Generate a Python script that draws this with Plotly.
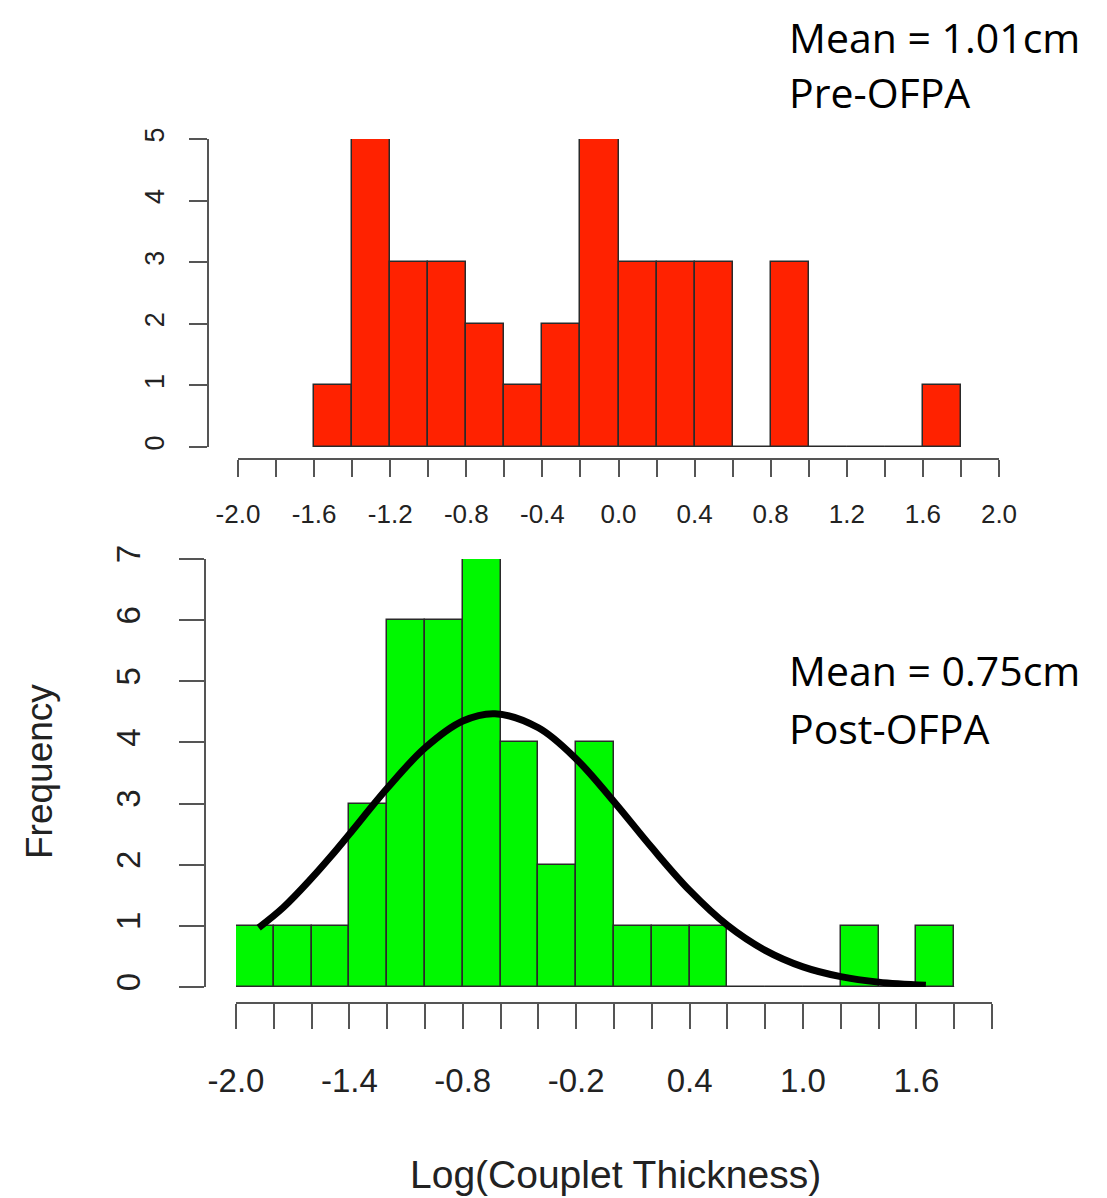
import plotly.graph_objects as go

W, H = 1107, 1198
PAGE_OFFSET = 8  # default body margin of the html page

# ---- data ----
pre_bin_left = [-1.6, -1.4, -1.2, -1.0, -0.8, -0.6, -0.4, -0.2, 0.0, 0.2, 0.4, 0.6, 0.8, 1.0, 1.2, 1.4, 1.6]
pre_counts = [1, 5, 3, 3, 2, 1, 2, 5, 3, 3, 3, 0, 3, 0, 0, 0, 1]

post_bin_left = [-2.0, -1.8, -1.6, -1.4, -1.2, -1.0, -0.8, -0.6, -0.4, -0.2, 0.0, 0.2, 0.4, 0.6, 0.8, 1.0, 1.2, 1.4, 1.6]
post_counts = [1, 1, 1, 3, 6, 6, 7, 4, 2, 4, 1, 1, 1, 0, 0, 0, 1, 0, 1]

bin_width = 0.2

# normal-fit curve
curve_x = [-1.88, -1.75, -1.6, -1.5, -1.4, -1.2, -1.0, -0.8, -0.63, -0.4, -0.2, 0.0, 0.2, 0.4, 0.6, 0.8, 1.0, 1.2, 1.4, 1.65]
curve_y = [0.97, 1.30, 1.78, 2.13, 2.50, 3.25, 3.91, 4.35, 4.47, 4.24, 3.73, 3.03, 2.28, 1.58, 1.01, 0.60, 0.33, 0.17, 0.08, 0.03]

top_xtick_vals = [-2.0, -1.6, -1.2, -0.8, -0.4, 0.0, 0.4, 0.8, 1.2, 1.6, 2.0]
top_xtick_text = ["-2.0", "-1.6", "-1.2", "-0.8", "-0.4", "0.0", "0.4", "0.8", "1.2", "1.6", "2.0"]
bot_xtick_vals = [-2.0, -1.4, -0.8, -0.2, 0.4, 1.0, 1.6]
bot_xtick_text = ["-2.0", "-1.4", "-0.8", "-0.2", "0.4", "1.0", "1.6"]
top_ytick_vals = [0, 1, 2, 3, 4, 5]
bot_ytick_vals = [0, 1, 2, 3, 4, 5, 6, 7]

RED = "#FF2200"
GREEN = "#00F800"
OUTLINE = "#2a2a2a"
AXIS = "#555555"
TXT = "#222222"
FONT = "Liberation Sans, Arial, sans-serif"


def px_x(p):
    return (p - PAGE_OFFSET) / W


def px_y(p):
    return 1 - (p - PAGE_OFFSET) / H


fig = go.Figure()

# baselines (R draws zero-height bins as a line at 0)
fig.add_trace(go.Scatter(x=[min(pre_bin_left), max(pre_bin_left) + bin_width], y=[0, 0],
                         mode="lines", line=dict(color=OUTLINE, width=1.5),
                         xaxis="x", yaxis="y", hoverinfo="skip", showlegend=False))
fig.add_trace(go.Bar(x=pre_bin_left, y=pre_counts, width=bin_width, offset=0,
                     marker=dict(color=RED, line=dict(color=OUTLINE, width=1.5)),
                     xaxis="x", yaxis="y", showlegend=False))

fig.add_trace(go.Scatter(x=[min(post_bin_left), max(post_bin_left) + bin_width], y=[0, 0],
                         mode="lines", line=dict(color=OUTLINE, width=1.5),
                         xaxis="x2", yaxis="y2", hoverinfo="skip", showlegend=False))
fig.add_trace(go.Bar(x=post_bin_left, y=post_counts, width=bin_width, offset=0,
                     marker=dict(color=GREEN, line=dict(color=OUTLINE, width=1.5)),
                     xaxis="x2", yaxis="y2", showlegend=False))
fig.add_trace(go.Scatter(x=curve_x, y=curve_y, mode="lines", line=dict(color="black", width=7, shape="spline"),
                         xaxis="x2", yaxis="y2", showlegend=False))

common_axis = dict(showline=True, linecolor=AXIS, linewidth=1.5, ticks="outside", tickcolor=AXIS,
                   tickwidth=1.5, showgrid=False, zeroline=False, fixedrange=True, automargin=False)

fig.update_layout(
    width=W, height=H,
    margin=dict(l=0, r=0, t=0, b=0, pad=0, autoexpand=False),
    paper_bgcolor="white", plot_bgcolor="white",
    bargap=0,
    font=dict(family=FONT, color=TXT),
    xaxis=dict(**common_axis, domain=[px_x(238), px_x(999)], range=[-2.0, 2.0],
               anchor="free", position=px_y(459),
               tickmode="array", tickvals=top_xtick_vals, ticktext=top_xtick_text, ticklen=17,
               tickfont=dict(size=26, color=TXT), ticklabelstandoff=15,
               minor=dict(tickmode="linear", tick0=-2.0, dtick=0.2, ticks="outside", ticklen=17,
                          tickcolor=AXIS, tickwidth=1.5, showgrid=False)),
    yaxis=dict(**common_axis, domain=[px_y(447), px_y(139)], range=[0, 5],
               anchor="free", position=px_x(208),
               tickmode="array", tickvals=top_ytick_vals, ticklen=18, tickangle=-90,
               tickfont=dict(size=27, color=TXT), ticklabelstandoff=14),
    xaxis2=dict(**common_axis, domain=[px_x(236), px_x(992)], range=[-2.0, 2.0],
                anchor="free", position=px_y(1003),
                tickmode="array", tickvals=bot_xtick_vals, ticktext=bot_xtick_text, ticklen=25,
                tickfont=dict(size=33, color=TXT), ticklabelstandoff=24,
                minor=dict(tickmode="linear", tick0=-2.0, dtick=0.2, ticks="outside", ticklen=25,
                           tickcolor=AXIS, tickwidth=1.5, showgrid=False)),
    yaxis2=dict(**common_axis, domain=[px_y(987), px_y(559)], range=[0, 7],
                anchor="free", position=px_x(205),
                tickmode="array", tickvals=bot_ytick_vals, ticklen=25, tickangle=-90,
                tickfont=dict(size=33, color=TXT), ticklabelstandoff=26),
)

ann_font = dict(family="Open Sans, sans-serif", size=41, color="black")
annotations = [
    dict(text="Mean = 1.01cm", x=px_x(788), y=px_y(37), xanchor="left", yanchor="middle", font=ann_font),
    dict(text="Pre-OFPA", x=px_x(788), y=px_y(92), xanchor="left", yanchor="middle", font=ann_font),
    dict(text="Mean = 0.75cm", x=px_x(788), y=px_y(670), xanchor="left", yanchor="middle", font=ann_font),
    dict(text="Post-OFPA", x=px_x(788), y=px_y(728), xanchor="left", yanchor="middle", font=ann_font),
    dict(text="Frequency", x=px_x(39), y=px_y(772), textangle=-90, xanchor="center", yanchor="middle",
         font=dict(family=FONT, size=37, color=TXT)),
    dict(text="Log(Couplet Thickness)", x=px_x(615), y=px_y(1174), xanchor="center", yanchor="middle",
         font=dict(family=FONT, size=39, color=TXT)),
]
for a in annotations:
    a.update(xref="paper", yref="paper", showarrow=False, borderpad=0)
fig.update_layout(annotations=annotations)

fig.write_html("out.html")
